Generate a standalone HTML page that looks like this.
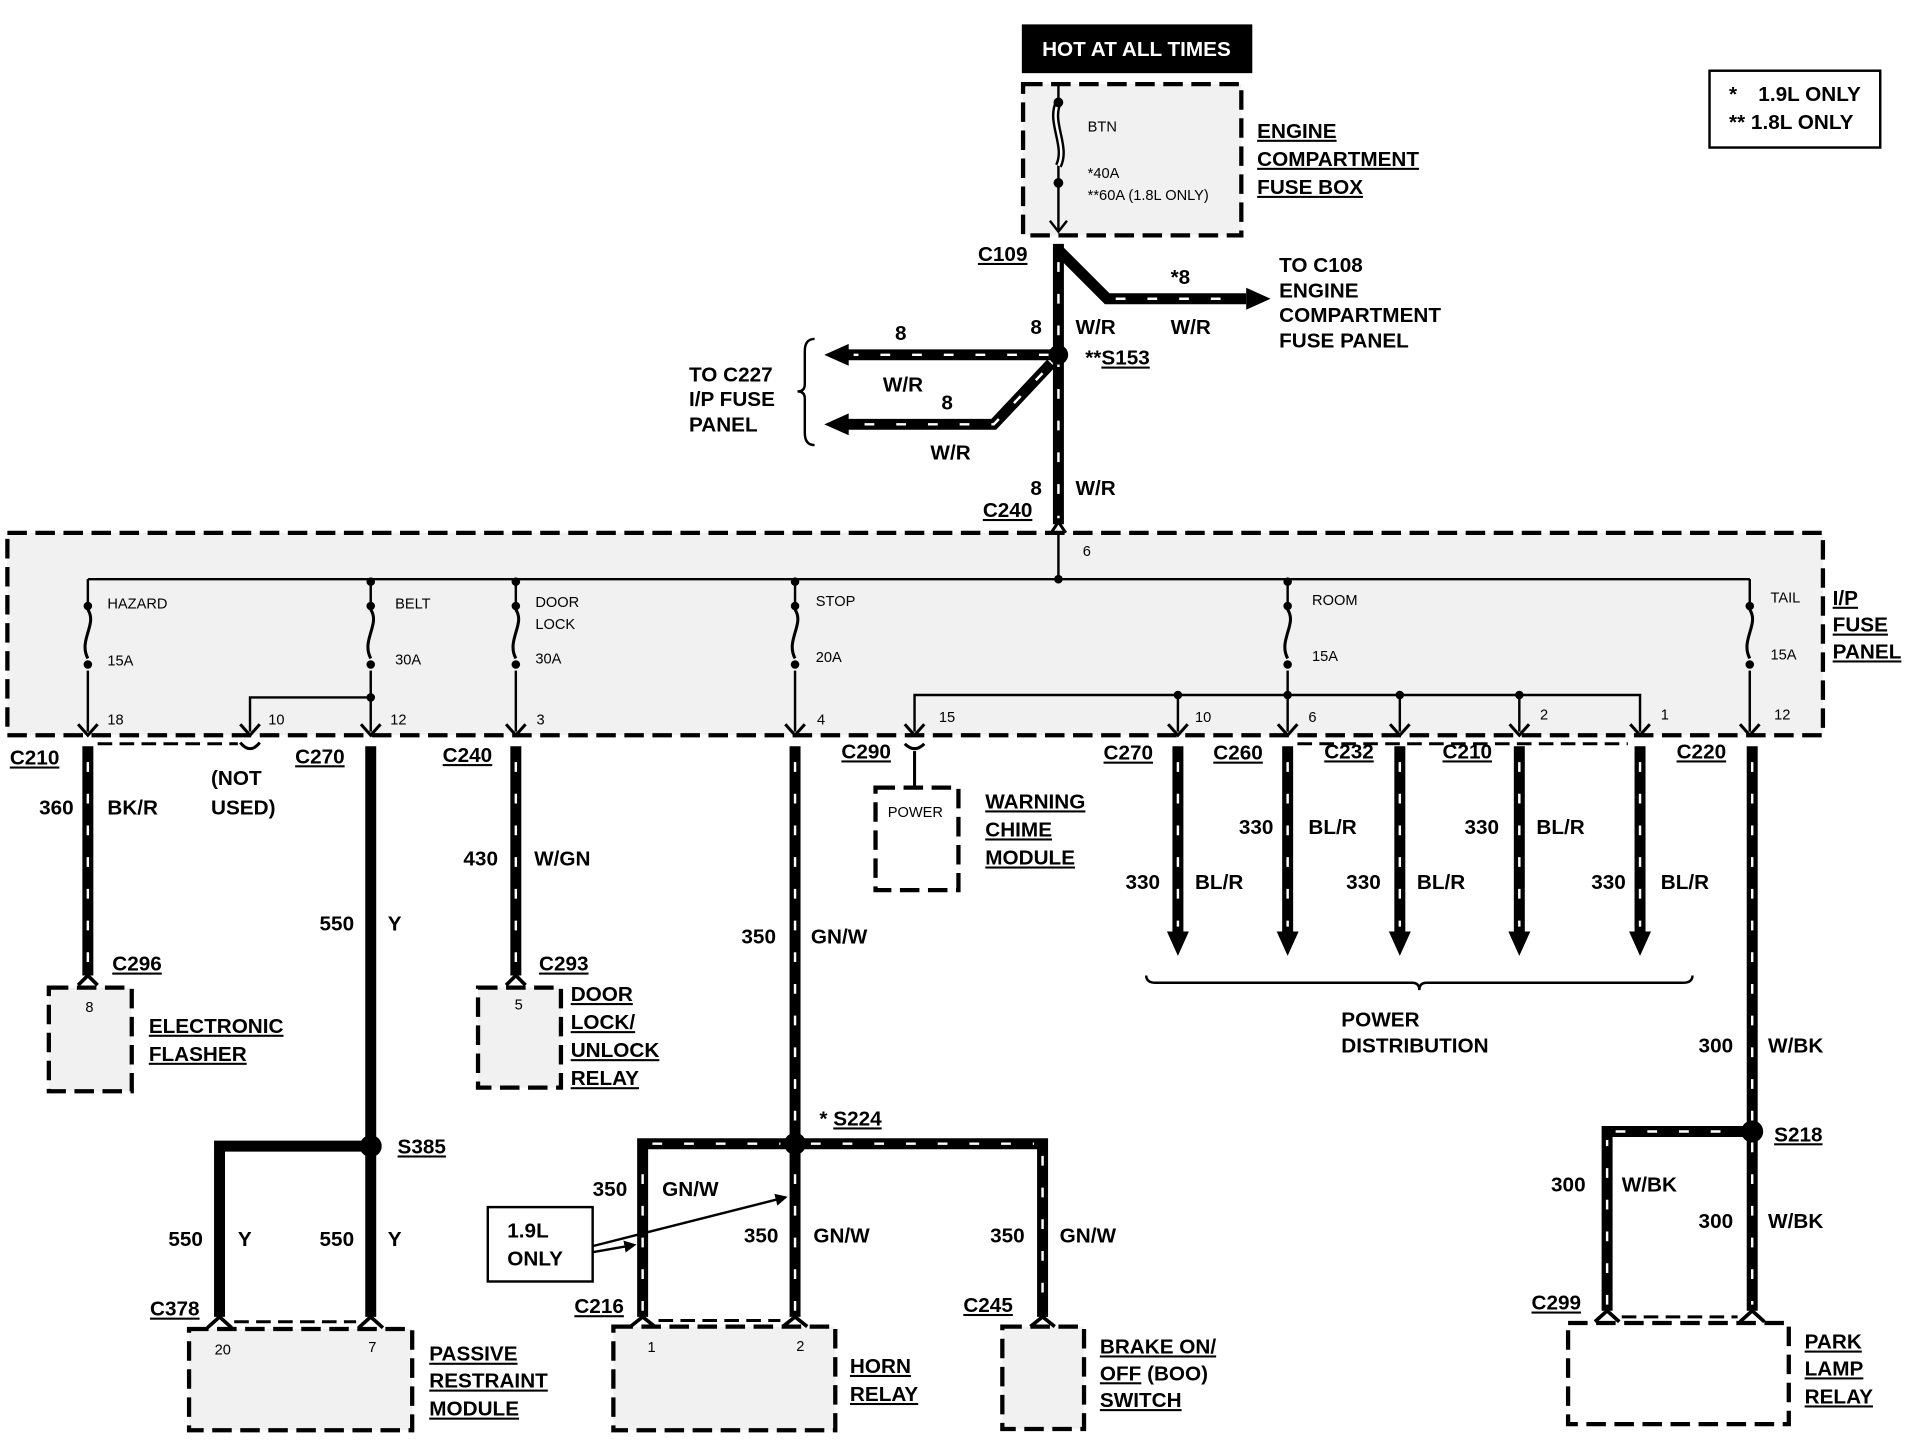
<!DOCTYPE html>
<html><head><meta charset="utf-8">
<style>
html,body{margin:0;padding:0;background:#fff;}
svg{display:block;}
text{font-family:"Liberation Sans",Arial,sans-serif;fill:#000;}
.b{font-weight:bold;font-size:17px;}
.s{font-size:12px;}
.u{text-decoration:underline;}
</style></head><body>
<svg width="1912" height="1440" viewBox="0 0 1568 1181" xmlns="http://www.w3.org/2000/svg">
<defs>
<marker id="ah" markerWidth="10" markerHeight="10" refX="8" refY="5" orient="auto" markerUnits="userSpaceOnUse"><path d="M0,0 L10,5 L0,10 z" fill="#000"/></marker>
</defs>
<rect width="1568" height="1181" fill="#fff"/>

<!-- legend -->
<rect x="1402" y="58" width="140" height="63" fill="none" stroke="#000" stroke-width="2"/>
<text class="b" x="1418" y="83">*</text><text class="b" x="1442" y="83">1.9L ONLY</text>
<text class="b" x="1418" y="106">** 1.8L ONLY</text>

<!-- hot at all times -->
<rect x="838" y="20" width="189" height="40" fill="#000"/>
<text class="b" x="932" y="46" text-anchor="middle" style="fill:#fff">HOT AT ALL TIMES</text>

<!-- fuse boxes (dashed) -->
<g fill="#f1f1f1" stroke="#000" stroke-width="3.5" stroke-dasharray="16 7">
<rect x="839" y="69" width="179" height="124"/>
<rect x="6" y="437" width="1489" height="166"/>
<rect x="40" y="810" width="68" height="85"/>
<rect x="392" y="810" width="68" height="82"/>
<rect x="718" y="646" width="68" height="84" fill="#fff"/>
<rect x="155" y="1090" width="183" height="83"/>
<rect x="503" y="1088" width="182" height="85"/>
<rect x="822" y="1088" width="67" height="84"/>
<rect x="1286" y="1085" width="181" height="83" fill="#fff"/>
</g>

<!-- engine fuse -->
<path d="M868,70 V84 C860,100 876,120 868,136 V190" fill="none" stroke="#000" stroke-width="2"/>
<path d="M868,84 C860,100 876,120 868,136" fill="none" stroke="#000" stroke-width="6"/>
<path d="M868,84 C860,100 876,120 868,136" fill="none" stroke="#fff" stroke-width="2"/>
<circle cx="868" cy="84" r="4"/><circle cx="868" cy="150" r="4"/>
<path d="M861,181 L868,190 L875,181" fill="none" stroke="#000" stroke-width="2"/>
<text class="s" x="892" y="108">BTN</text>
<text class="s" x="892" y="146">*40A</text>
<text class="s" x="892" y="164">**60A (1.8L ONLY)</text>
<text class="b u" x="1031" y="113">ENGINE</text>
<text class="b u" x="1031" y="136">COMPARTMENT</text>
<text class="b u" x="1031" y="159">FUSE BOX</text>

<!-- main wires (striped black) -->
<g fill="none" stroke="#000" stroke-width="9">
<path d="M868,200 V430"/>
<path d="M868,205 L908,245 H1022"/>
<path d="M868,291 H694"/>
<path d="M862,298 L815,348 H694"/>
<path d="M72,612 V800"/>
<path d="M423,612 V800"/>
<path d="M652,612 V1080"/>
<path d="M527,1080 V938 H855 V1080"/>
<path d="M966,612 V766"/><path d="M1056,612 V766"/><path d="M1148,612 V766"/><path d="M1246,612 V766"/><path d="M1345,612 V766"/>
<path d="M1437,612 V1075"/>
<path d="M1318,1075 V928 H1437"/>
<path d="M304,612 V1080"/>
<path d="M180,1080 V940 H304"/>
</g>
<g fill="none" stroke="#fff" stroke-width="2" stroke-dasharray="8 18">
<path d="M868,215 V425"/>
<path d="M915,245 H1015"/>
<path d="M860,291 H700"/>
<path d="M855,306 L815,348 H700"/>
<path d="M72,625 V795"/>
<path d="M423,625 V795"/>
<path d="M652,625 V1075"/>
<path d="M527,1075 V945 M535,938 H640 M665,938 H848 M855,948 V1075"/>
<path d="M966,625 V760"/><path d="M1056,625 V760"/><path d="M1148,625 V760"/><path d="M1246,625 V760"/><path d="M1345,625 V760"/>
<path d="M1437,625 V1070"/>
<path d="M1318,1070 V935 M1325,928 H1430"/>
</g>
<!-- arrowheads -->
<g fill="#000">
<path d="M1022,236 L1042,245 L1022,254z"/>
<path d="M696,282 L676,291 L696,300z"/>
<path d="M696,339 L676,348 L696,357z"/>
<path d="M957,764 L966,784 L975,764z"/><path d="M1047,764 L1056,784 L1065,764z"/><path d="M1139,764 L1148,784 L1157,764z"/><path d="M1237,764 L1246,784 L1255,764z"/><path d="M1336,764 L1345,784 L1354,764z"/>
</g>
<!-- splices -->
<circle cx="868" cy="291" r="8"/><circle cx="304" cy="940" r="9"/><circle cx="652" cy="938" r="9"/><circle cx="1437" cy="928" r="9"/>

<text class="b u" x="802" y="214">C109</text>
<text class="b" x="960" y="233">*8</text>
<text class="b" x="845" y="274">8</text><text class="b" x="882" y="274">W/R</text><text class="b" x="960" y="274">W/R</text>
<text class="b" x="1049" y="223">TO C108</text><text class="b" x="1049" y="244">ENGINE</text><text class="b" x="1049" y="264">COMPARTMENT</text><text class="b" x="1049" y="285">FUSE PANEL</text>
<text class="b" x="890" y="299">**<tspan class="u">S153</tspan></text>
<text class="b" x="734" y="279">8</text><text class="b" x="724" y="321">W/R</text>
<text class="b" x="772" y="336">8</text><text class="b" x="763" y="377">W/R</text>
<path d="M668,278 Q660,278 660,288 V315 Q660,321 654,321 Q660,321 660,327 V355 Q660,365 668,365" fill="none" stroke="#000" stroke-width="2"/>
<text class="b" x="565" y="313">TO C227</text><text class="b" x="565" y="333">I/P FUSE</text><text class="b" x="565" y="354">PANEL</text>
<text class="b" x="845" y="406">8</text><text class="b" x="882" y="406">W/R</text>
<text class="b u" x="806" y="424">C240</text>
<path d="M862,437 L868,428 L874,437" fill="none" stroke="#000" stroke-width="2.5"/>

<!-- I/P fuse panel internals -->
<g fill="none" stroke="#000" stroke-width="2">
<path d="M868,437 V475"/>
<path d="M72,475 H1435"/>
<path d="M72,475 V600"/><path d="M304,475 V600"/><path d="M423,475 V600"/><path d="M652,475 V600"/><path d="M1056,475 V600"/><path d="M1435,475 V600"/>
<path d="M304,572 H205 V600"/>
<path d="M750,600 V570 H1345 V600"/>
<path d="M966,570 V600"/><path d="M1148,570 V600"/><path d="M1246,570 V600"/>
</g>
<g fill="#f1f1f1" stroke="none">
<rect x="66" y="500" width="12" height="50"/><rect x="298" y="500" width="12" height="50"/><rect x="417" y="500" width="12" height="50"/><rect x="646" y="500" width="12" height="50"/><rect x="1050" y="500" width="12" height="50"/><rect x="1429" y="500" width="12" height="50"/>
</g>
<g fill="none" stroke="#000" stroke-width="2.5">
<path d="M72,500 C80,512 64,525 72,540"/><path d="M304,500 C312,512 296,525 304,540"/><path d="M423,500 C431,512 415,525 423,540"/><path d="M652,500 C660,512 644,525 652,540"/><path d="M1056,500 C1064,512 1048,525 1056,540"/><path d="M1435,500 C1443,512 1427,525 1435,540"/>
</g>
<g>
<circle cx="72" cy="497" r="3.5"/><circle cx="72" cy="545" r="3.5"/>
<circle cx="304" cy="497" r="3.5"/><circle cx="304" cy="545" r="3.5"/><circle cx="304" cy="572" r="3.5"/><circle cx="304" cy="477" r="3.5"/>
<circle cx="423" cy="497" r="3.5"/><circle cx="423" cy="545" r="3.5"/><circle cx="423" cy="477" r="3.5"/>
<circle cx="652" cy="497" r="3.5"/><circle cx="652" cy="545" r="3.5"/><circle cx="652" cy="477" r="3.5"/>
<circle cx="868" cy="475" r="3.5"/>
<circle cx="1056" cy="497" r="3.5"/><circle cx="1056" cy="545" r="3.5"/><circle cx="1056" cy="477" r="3.5"/><circle cx="1056" cy="570" r="3.5"/>
<circle cx="966" cy="570" r="3.5"/><circle cx="1148" cy="570" r="3.5"/><circle cx="1246" cy="570" r="3.5"/>
<circle cx="1435" cy="497" r="3.5"/><circle cx="1435" cy="545" r="3.5"/>
</g>
<text class="s" x="888" y="456">6</text>
<text class="s" x="88" y="499">HAZARD</text><text class="s" x="88" y="546">15A</text>
<text class="s" x="324" y="499">BELT</text><text class="s" x="324" y="545">30A</text>
<text class="s" x="439" y="498">DOOR</text><text class="s" x="439" y="516">LOCK</text><text class="s" x="439" y="544">30A</text>
<text class="s" x="669" y="497">STOP</text><text class="s" x="669" y="543">20A</text>
<text class="s" x="1076" y="496">ROOM</text><text class="s" x="1076" y="542">15A</text>
<text class="s" x="1452" y="494">TAIL</text><text class="s" x="1452" y="541">15A</text>
<text class="b u" x="1503" y="496">I/P</text><text class="b u" x="1503" y="518">FUSE</text><text class="b u" x="1503" y="540">PANEL</text>
<g class="s">
<text x="88" y="594">18</text><text x="220" y="594">10</text><text x="320" y="594">12</text><text x="440" y="594">3</text><text x="670" y="594">4</text><text x="770" y="592">15</text><text x="980" y="592">10</text><text x="1073" y="592">6</text><text x="1263" y="590">2</text><text x="1362" y="590">1</text><text x="1455" y="590">12</text>
</g>
<!-- connector V marks -->
<g fill="none" stroke="#000" stroke-width="2.5">
<path d="M64,594 L72,603 L80,594"/><path d="M197,594 L205,603 L213,594"/><path d="M296,594 L304,603 L312,594"/><path d="M415,594 L423,603 L431,594"/><path d="M644,594 L652,603 L660,594"/><path d="M742,594 L750,603 L758,594"/><path d="M958,594 L966,603 L974,594"/><path d="M1048,594 L1056,603 L1064,594"/><path d="M1140,594 L1148,603 L1156,594"/><path d="M1238,594 L1246,603 L1254,594"/><path d="M1337,594 L1345,603 L1353,594"/><path d="M1427,594 L1435,603 L1443,594"/>
<path d="M197,609 Q205,619 213,609"/>
<path d="M742,610 Q750,618 758,610"/>
<path d="M750,616 V646"/>
</g>
<g fill="none" stroke="#000" stroke-width="2.5" stroke-dasharray="12 6">
<path d="M80,610 H195"/><path d="M1064,610 H1335"/>
</g>
<!-- connector labels -->
<g class="b u">
<text x="8" y="627">C210</text><text x="242" y="626">C270</text><text x="363" y="625">C240</text><text x="690" y="622">C290</text><text x="905" y="623">C270</text><text x="995" y="623">C260</text><text x="1086" y="622">C232</text><text x="1183" y="622">C210</text><text x="1375" y="622">C220</text>
</g>
<text class="b" x="173" y="644">(NOT</text><text class="b" x="173" y="668">USED)</text>

<!-- left side -->
<text class="b" x="32" y="668">360</text><text class="b" x="88" y="668">BK/R</text>
<text class="b u" x="92" y="796">C296</text>
<path d="M64,808 L72,800 L80,808" fill="none" stroke="#000" stroke-width="3"/>
<text class="s" x="70" y="830">8</text>
<text class="b u" x="122" y="847">ELECTRONIC</text><text class="b u" x="122" y="870">FLASHER</text>

<text class="b" x="262" y="763">550</text><text class="b" x="318" y="763">Y</text>
<text class="b u" x="326" y="946">S385</text>
<text class="b" x="138" y="1022">550</text><text class="b" x="195" y="1022">Y</text>
<text class="b" x="262" y="1022">550</text><text class="b" x="318" y="1022">Y</text>
<text class="b u" x="123" y="1079">C378</text>
<path d="M170,1089 L180,1080 L190,1089 M294,1089 L304,1080 L314,1089" fill="none" stroke="#000" stroke-width="3"/>
<path d="M192,1084 H292" fill="none" stroke="#000" stroke-width="2.5" stroke-dasharray="12 6"/>
<text class="s" x="176" y="1111">20</text><text class="s" x="302" y="1109">7</text>
<text class="b u" x="352" y="1116">PASSIVE</text><text class="b u" x="352" y="1138">RESTRAINT</text><text class="b u" x="352" y="1161">MODULE</text>

<text class="b" x="380" y="710">430</text><text class="b" x="438" y="710">W/GN</text>
<text class="b u" x="442" y="796">C293</text>
<path d="M415,808 L423,800 L431,808" fill="none" stroke="#000" stroke-width="3"/>
<text class="s" x="422" y="828">5</text>
<text class="b u" x="468" y="821">DOOR</text><text class="b u" x="468" y="844">LOCK/</text><text class="b u" x="468" y="867">UNLOCK</text><text class="b u" x="468" y="890">RELAY</text>

<text class="b" x="608" y="774">350</text><text class="b" x="665" y="774">GN/W</text>
<text class="b" x="672" y="923">* <tspan class="u">S224</tspan></text>
<text class="b" x="486" y="981">350</text><text class="b" x="543" y="981">GN/W</text>
<text class="b" x="610" y="1019">350</text><text class="b" x="667" y="1019">GN/W</text>
<text class="b" x="812" y="1019">350</text><text class="b" x="869" y="1019">GN/W</text>
<rect x="400" y="990" width="86" height="61" fill="#fff" stroke="#000" stroke-width="2"/>
<text class="b" x="416" y="1015">1.9L</text><text class="b" x="416" y="1038">ONLY</text>
<path d="M486,1027 L520,1021" stroke="#000" stroke-width="2" marker-end="url(#ah)"/>
<path d="M486,1022 L644,982" stroke="#000" stroke-width="2" marker-end="url(#ah)"/>
<text class="b u" x="471" y="1077">C216</text>
<path d="M517,1088 L527,1080 L537,1088 M642,1088 L652,1080 L662,1088" fill="none" stroke="#000" stroke-width="3"/>
<path d="M540,1083 H640" fill="none" stroke="#000" stroke-width="2.5" stroke-dasharray="12 6"/>
<text class="s" x="531" y="1109">1</text><text class="s" x="653" y="1108">2</text>
<text class="b u" x="697" y="1126">HORN</text><text class="b u" x="697" y="1149">RELAY</text>
<text class="b u" x="790" y="1076">C245</text>
<path d="M845,1088 L855,1080 L865,1088" fill="none" stroke="#000" stroke-width="3"/>
<text class="b u" x="902" y="1110">BRAKE ON/</text><text class="b" x="902" y="1132"><tspan class="u">OFF</tspan> (BOO)</text><text class="b u" x="902" y="1154">SWITCH</text>

<text class="s" x="728" y="670">POWER</text>
<text class="b u" x="808" y="663">WARNING</text><text class="b u" x="808" y="686">CHIME</text><text class="b u" x="808" y="709">MODULE</text>

<text class="b" x="923" y="729">330</text><text class="b" x="980" y="729">BL/R</text>
<text class="b" x="1016" y="684">330</text><text class="b" x="1073" y="684">BL/R</text>
<text class="b" x="1104" y="729">330</text><text class="b" x="1162" y="729">BL/R</text>
<text class="b" x="1201" y="684">330</text><text class="b" x="1260" y="684">BL/R</text>
<text class="b" x="1305" y="729">330</text><text class="b" x="1362" y="729">BL/R</text>
<path d="M940,800 Q940,806 948,806 H1158 Q1164,806 1164,812 Q1164,806 1170,806 H1380 Q1388,806 1388,800" fill="none" stroke="#000" stroke-width="2"/>
<text class="b" x="1100" y="842">POWER</text><text class="b" x="1100" y="863">DISTRIBUTION</text>

<text class="b" x="1393" y="863">300</text><text class="b" x="1450" y="863">W/BK</text>
<text class="b u" x="1455" y="936">S218</text>
<text class="b" x="1272" y="977">300</text><text class="b" x="1330" y="977">W/BK</text>
<text class="b" x="1393" y="1007">300</text><text class="b" x="1450" y="1007">W/BK</text>
<text class="b u" x="1256" y="1074">C299</text>
<path d="M1308,1084 L1318,1075 L1328,1084 M1427,1084 L1437,1075 L1447,1084" fill="none" stroke="#000" stroke-width="3"/>
<path d="M1330,1080 H1425" fill="none" stroke="#000" stroke-width="2.5" stroke-dasharray="12 6"/>
<text class="b u" x="1480" y="1106">PARK</text><text class="b u" x="1480" y="1128">LAMP</text><text class="b u" x="1480" y="1151">RELAY</text>
</svg>
</body></html>
